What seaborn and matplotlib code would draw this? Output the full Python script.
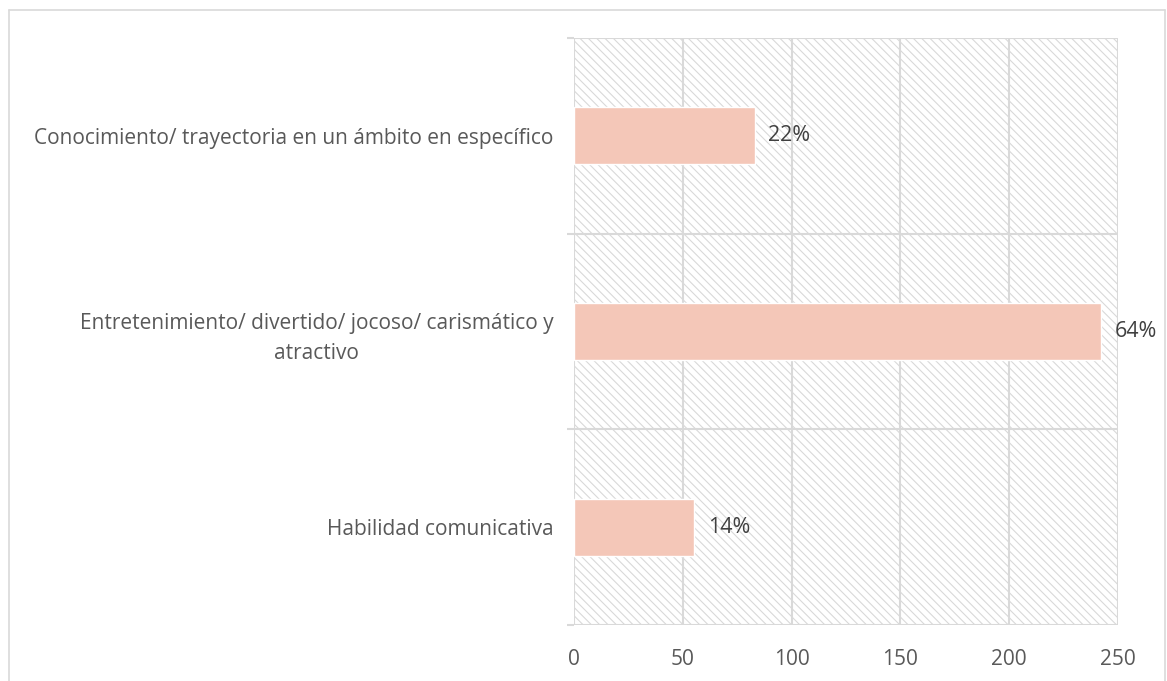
import matplotlib
matplotlib.use("Agg")
import matplotlib.pyplot as plt
from matplotlib.lines import Line2D
import seaborn as sns
import pandas as pd

categories = [
    "Conocimiento/ trayectoria en un ámbito en específico",
    "Entretenimiento/ divertido/ jocoso/ carismático y\natractivo",
    "Habilidad comunicativa",
]
counts = [83, 242, 55]
pct_labels = ["22%", "64%", "14%"]
x_ticks = [0, 50, 100, 150, 200, 250]

sns.set_theme(style="white")
plt.rcParams["font.family"] = ["Open Sans", "DejaVu Sans"]
plt.rcParams["hatch.color"] = "#dcdcdc"
plt.rcParams["hatch.linewidth"] = 0.8

GRID = "#d9d9d9"
TEXT = "#595959"

df = pd.DataFrame({"categoria": categories, "n": counts})

fig = plt.figure(figsize=(11.67, 6.81), dpi=100)
ax = fig.add_axes([574 / 1167, 1 - 625 / 681, 544 / 1167, 587 / 681])

# hatched plot area
ax.patch.set_facecolor("white")
ax.patch.set_hatch("\\\\\\\\")
ax.patch.set_edgecolor(GRID)
ax.patch.set_linewidth(0)

sns.barplot(data=df, x="n", y="categoria", orient="h", color="#f4c7b8",
            saturation=1, width=0.29, ax=ax, zorder=3)

ax.set_xlim(0, 250)
ax.set_ylim(2.5, -0.5)
ax.set_xticks(x_ticks)
ax.set_xticklabels([str(t) for t in x_ticks])
ax.set_xlabel("")
ax.set_ylabel("")

# vertical gridlines and category separators
ax.set_yticks([-0.5, 0.5, 1.5, 2.5], minor=True)
ax.grid(axis="x", which="major", color=GRID, linewidth=1.5, zorder=1)
ax.grid(axis="y", which="minor", color=GRID, linewidth=1.5, zorder=1)
ax.set_axisbelow(True)
for s in ["top", "right", "bottom", "left"]:
    ax.spines[s].set_visible(False)

ax.tick_params(axis="x", which="major", length=0, pad=17, labelsize=15, labelcolor=TEXT)
ax.tick_params(axis="y", which="major", length=0, pad=15, labelsize=15, labelcolor=TEXT)
ax.tick_params(axis="y", which="minor", left=True, length=5, width=1.5, color=GRID)
for lab in ax.get_yticklabels():
    lab.set_multialignment("center")
    lab.set_linespacing(1.55)

for container in ax.containers:
    ax.bar_label(container, labels=pct_labels, padding=10, fontsize=15.5, color="#404040")

# outer chart frame
frame_color = "#d9d9d9"
x0, x1, y1 = 8.5 / 1167, 1165 / 1167, 1 - 9.5 / 681
fig.add_artist(Line2D([x0, x1], [y1, y1], color=frame_color, linewidth=1.2))
fig.add_artist(Line2D([x0, x0], [0, y1], color=frame_color, linewidth=1.2))
fig.add_artist(Line2D([x1, x1], [0, y1], color=frame_color, linewidth=1.2))

fig.savefig("out.png", dpi=100)
